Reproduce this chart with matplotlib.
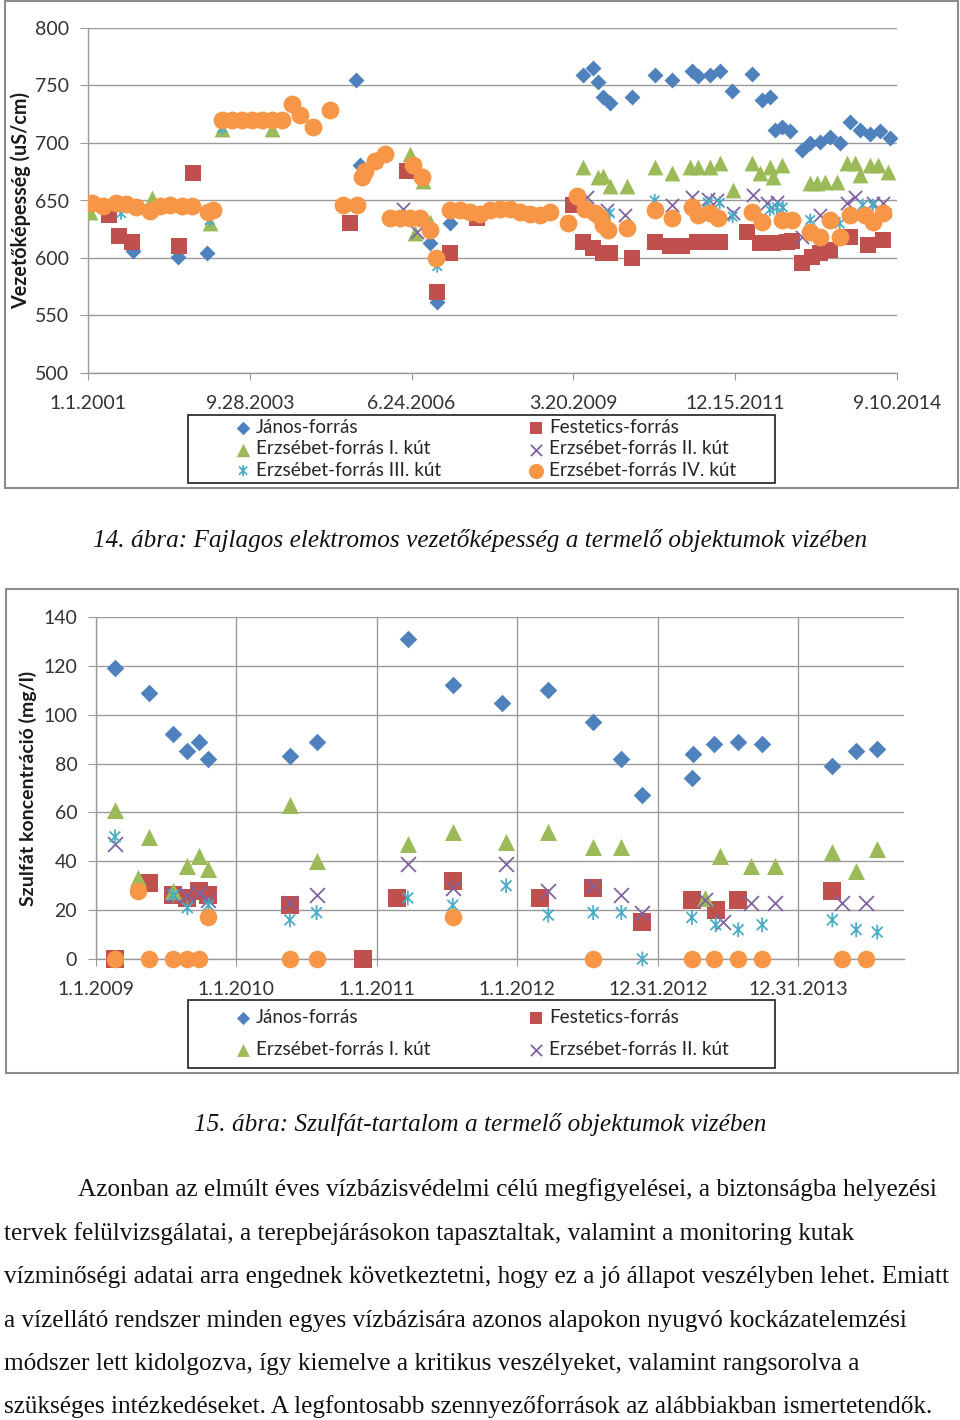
import matplotlib
matplotlib.use('Agg')
import matplotlib.pyplot as plt
import matplotlib.dates as mdates
from matplotlib.path import Path
from matplotlib.patches import Rectangle
from matplotlib.ticker import FuncFormatter, FixedLocator
from datetime import datetime, timedelta
import numpy as np

plt.rcParams['font.family'] = ['Lato', 'DejaVu Sans']

# ---------------- Chart 1 data: decimal year, conductivity (uS/cm) ----------------
janos1_t = [2001.20, 2001.76, 2002.52, 2003.01, 2005.53, 2005.60, 2006.79, 2006.91, 2007.13,
            2009.38, 2009.54, 2009.63, 2009.71, 2009.83, 2010.20, 2010.59, 2010.88,
            2011.22, 2011.32, 2011.52, 2011.69, 2011.90, 2012.24, 2012.40, 2012.54,
            2012.62, 2012.74, 2012.88, 2013.08, 2013.22, 2013.39, 2013.56, 2013.72, 2013.89,
            2014.06, 2014.23, 2014.40, 2014.57]
janos1_v = [645, 606, 601, 604, 755, 681, 613, 562, 630,
            759, 765, 753, 740, 735, 740, 759, 755,
            763, 758, 759, 763, 745, 760, 737, 740,
            711, 714, 710, 694, 700, 701, 705, 700, 718,
            711, 708, 710, 704]

fest1_t = [2001.36, 2001.52, 2001.74, 2002.54, 2002.78, 2005.43, 2006.40, 2006.91, 2007.13, 2007.58,
           2009.21, 2009.38, 2009.54, 2009.71, 2009.83, 2010.20, 2010.59, 2010.85,
           2011.05, 2011.30, 2011.49, 2011.69, 2012.15, 2012.37, 2012.59, 2012.83, 2012.91,
           2013.08, 2013.25, 2013.39, 2013.56, 2013.89, 2014.20, 2014.45]
fest1_v = [637, 619, 614, 610, 674, 630, 676, 570, 604, 635,
           646, 614, 609, 604, 604, 600, 614, 610,
           610, 614, 614, 614, 623, 613, 613, 614, 615,
           596, 601, 604, 607, 618, 611, 616]

erz1_1_t = [2001.03, 2002.08, 2003.06, 2003.27, 2004.11, 2006.45, 2006.53, 2006.67, 2006.79,
            2009.38, 2009.63, 2009.71, 2009.83, 2010.12, 2010.59, 2010.88,
            2011.19, 2011.32, 2011.52, 2011.69, 2011.91, 2012.24, 2012.37, 2012.54, 2012.59, 2012.74,
            2013.22, 2013.34, 2013.47, 2013.67, 2013.84, 2013.98, 2014.06, 2014.23, 2014.37, 2014.54]
erz1_1_v = [640, 652, 630, 712, 712, 690, 622, 667, 631,
            679, 670, 671, 663, 663, 679, 674,
            679, 679, 679, 683, 659, 683, 674, 679, 670, 681,
            665, 665, 666, 666, 683, 683, 672, 681, 681, 675]

erz2_1_t = [2006.33, 2006.56, 2009.44, 2009.78, 2010.09, 2010.88, 2011.22, 2011.49, 2011.64, 2011.91,
            2012.25, 2012.49, 2012.66, 2013.08, 2013.39, 2013.84, 2013.98, 2014.28, 2014.45]
erz2_1_v = [643, 623, 653, 642, 637, 646, 653, 651, 650, 639,
            655, 648, 649, 618, 637, 648, 653, 648, 648]

erz3_1_t = [2001.56, 2003.06, 2003.27, 2006.91, 2009.83, 2010.59, 2011.49, 2011.69, 2011.91,
            2012.54, 2012.66, 2012.76, 2013.22, 2013.72, 2014.11, 2014.28, 2014.52]
erz3_1_v = [639, 633, 713, 593, 639, 650, 648, 648, 636,
            642, 644, 644, 633, 630, 646, 646, 639]

erz4_1_t = [2001.07, 2001.25, 2001.47, 2001.64, 2001.81,
            2002.05, 2002.22, 2002.39, 2002.59, 2002.76,
            2003.03, 2003.12, 2003.27, 2003.44, 2003.61, 2003.78, 2003.94,
            2004.11, 2004.28, 2004.45, 2004.59, 2004.81,
            2005.09, 2005.31, 2005.55, 2005.64, 2005.69, 2005.86,
            2006.03, 2006.11, 2006.28, 2006.45, 2006.50, 2006.62, 2006.65, 2006.79, 2006.89,
            2007.13, 2007.29, 2007.46, 2007.63, 2007.80, 2007.97,
            2008.14, 2008.31, 2008.48, 2008.65, 2008.82,
            2009.12, 2009.27, 2009.41, 2009.58, 2009.66, 2009.71, 2009.80,
            2010.12, 2010.59, 2010.88,
            2011.22, 2011.32, 2011.52, 2011.66,
            2012.24, 2012.40, 2012.74, 2012.91,
            2013.22, 2013.39, 2013.56, 2013.72, 2013.89,
            2014.15, 2014.28, 2014.45]
erz4_1_v = [648, 645, 648, 647, 644,
            641, 645, 646, 645, 645,
            640, 642, 720, 720, 720, 720, 720,
            720, 720, 734, 724, 714,
            729, 646, 646, 670, 676, 684,
            690, 635, 635, 635, 681, 635, 670, 624, 600,
            642, 642, 640, 638, 642, 643,
            643, 640, 638, 637, 640,
            630, 654, 643, 639, 636, 629, 624,
            626, 642, 635,
            644, 637, 639, 635,
            640, 631, 633, 633,
            623, 618, 633, 618, 637,
            637, 631, 639]

labels1 = ['János-forrás', 'Festetics-forrás', 'Erzsébet-forrás I. kút',
           'Erzsébet-forrás II. kút', 'Erzsébet-forrás III. kút', 'Erzsébet-forrás IV. kút']
yticks1 = [500, 550, 600, 650, 700, 750, 800]

# ---------------- Chart 2 data: decimal year, sulphate (mg/l) ----------------
janos2_t = [2009.135, 2009.38, 2009.55, 2009.65, 2009.73, 2009.80, 2010.38, 2010.57,
            2011.22, 2011.54, 2011.89, 2012.22, 2012.54, 2012.74, 2012.89,
            2013.24, 2013.25, 2013.40, 2013.57, 2013.74, 2014.24, 2014.41, 2014.56]
janos2_v = [119, 109, 92, 85, 89, 82, 83, 89,
            131, 112, 105, 110, 97, 82, 67,
            74, 84, 88, 89, 88, 79, 85, 86]

fest2_t = [2009.135, 2009.38, 2009.55, 2009.65, 2009.73, 2009.80, 2010.38, 2010.90,
           2011.14, 2011.54, 2012.16, 2012.54, 2012.89, 2013.24, 2013.41, 2013.57, 2014.24]
fest2_v = [0, 31, 26, 25, 28, 26, 22, 0,
           25, 32, 25, 29, 15, 24, 20, 24, 28]

erz1_2_t = [2009.135, 2009.30, 2009.38, 2009.55, 2009.65, 2009.73, 2009.80, 2010.38, 2010.57,
            2011.22, 2011.54, 2011.92, 2012.22, 2012.54, 2012.74,
            2013.33, 2013.44, 2013.66, 2013.83, 2014.24, 2014.41, 2014.56]
erz1_2_v = [61, 33, 50, 28, 38, 42, 37, 63, 40,
            47, 52, 48, 52, 46, 46,
            25, 42, 38, 38, 44, 36, 45]

erz2_2_t = [2009.135, 2009.55, 2009.65, 2009.73, 2009.80, 2010.38, 2010.57,
            2011.22, 2011.54, 2011.92, 2012.22, 2012.54, 2012.74, 2012.89,
            2013.33, 2013.46, 2013.66, 2013.83, 2014.31, 2014.48]
erz2_2_v = [47, 26, 26, 27, 24, 23, 26,
            39, 29, 39, 28, 30, 26, 19,
            24, 15, 23, 23, 23, 23]

erz3_2_t = [2009.135, 2009.55, 2009.65, 2009.80, 2010.38, 2010.57,
            2011.22, 2011.54, 2011.92, 2012.22, 2012.54, 2012.74, 2012.89,
            2013.24, 2013.41, 2013.57, 2013.74, 2014.24, 2014.41, 2014.56]
erz3_2_v = [50, 26, 21, 22, 16, 19,
            25, 22, 30, 18, 19, 19, 0,
            17, 14, 12, 14, 16, 12, 11]

erz4_2_t = [2009.135, 2009.30, 2009.38, 2009.55, 2009.65, 2009.73, 2009.80, 2010.38, 2010.57,
            2011.54, 2012.54, 2013.24, 2013.40, 2013.57, 2013.74, 2014.31, 2014.48]
erz4_2_v = [0, 28, 0, 0, 0, 0, 17, 0, 0,
            17, 0, 0, 0, 0, 0, 0, 0]

yticks2 = [0, 20, 40, 60, 80, 100, 120, 140]

caption1 = "14. ábra: Fajlagos elektromos vezetőképesség a termelő objektumok vizében"
caption2 = "15. ábra: Szulfát-tartalom a termelő objektumok vizében"
body_lines = [
    "Azonban az elmúlt éves vízbázisvédelmi célú megfigyelései, a biztonságba helyezési",
    "tervek felülvizsgálatai, a terepbejárásokon tapasztaltak, valamint a monitoring kutak",
    "vízminőségi adatai arra engednek következtetni, hogy ez a jó állapot veszélyben lehet. Emiatt",
    "a vízellátó rendszer minden egyes vízbázisára azonos alapokon nyugvó kockázatelemzési",
    "módszer lett kidolgozva, így kiemelve a kritikus veszélyeket, valamint rangsorolva a",
    "szükséges intézkedéseket. A legfontosabb szennyezőforrások az alábbiakban ismertetendők.",
]

# ---------------- styles ----------------
C_BLUE, C_RED, C_GREEN = '#4F81BD', '#C0504D', '#9BBB59'
C_PURPLE, C_CYAN, C_ORANGE = '#8064A2', '#4BACC6', '#F79646'
GRID = '#9a9a9a'
TXT = '#333333'

STAR = Path([(0, -1), (0, 1), (-0.72, -0.72), (0.72, 0.72), (-0.72, 0.72), (0.72, -0.72)],
            [Path.MOVETO, Path.LINETO, Path.MOVETO, Path.LINETO, Path.MOVETO, Path.LINETO])


def to_num(years):
    out = []
    for y in years:
        y0 = int(np.floor(y))
        out.append(mdates.date2num(datetime(y0, 1, 1) + timedelta(days=(y - y0) * 365.25)))
    return np.array(out)


def date_fmt(x, pos=None):
    d = mdates.num2date(x)
    return f"{d.month}.{d.day}.{d.year}"


W, H = 960, 1420
fig = plt.figure(figsize=(W / 100, H / 100), dpi=100)
fig.patch.set_facecolor('white')


def fx(px):
    return px / W


def fy(py):
    return 1 - py / H


def frame(x0, y0, x1, y1, color, lw):
    fig.add_artist(Rectangle((fx(x0), fy(y1)), fx(x1) - fx(x0), fy(y0) - fy(y1),
                             transform=fig.transFigure, fill=False, edgecolor=color, lw=lw))


def style_axes(ax, vgrid):
    for s in ['top', 'right']:
        ax.spines[s].set_visible(False)
    for s in ['left', 'bottom']:
        ax.spines[s].set_color(GRID)
        ax.spines[s].set_linewidth(1.0)
    ax.grid(axis='y', color=GRID, lw=1.0)
    if vgrid:
        ax.grid(axis='x', color=GRID, lw=1.0)
    ax.set_axisbelow(True)
    ax.tick_params(axis='y', length=6, color=GRID, pad=7.5, labelsize=14, labelcolor=TXT)
    ax.tick_params(axis='x', length=5, color=GRID, pad=10.5, labelsize=14, labelcolor=TXT)
    ax.xaxis.set_major_formatter(FuncFormatter(date_fmt))


def plot_series(ax, series, sizes):
    handles = []
    for (t, v, kind) in series:
        x = to_num(t)
        if kind == 'janos':
            h = ax.scatter(x, v, marker='D', s=sizes['D'], color=C_BLUE, linewidths=0, zorder=3)
        elif kind == 'fest':
            h = ax.scatter(x, v, marker='s', s=sizes['s'], color=C_RED, linewidths=0, zorder=3)
        elif kind == 'e1':
            h = ax.scatter(x, v, marker='^', s=sizes['^'], color=C_GREEN, linewidths=0, zorder=3)
        elif kind == 'e2':
            h = ax.scatter(x, v, marker='x', s=sizes['x'], color=C_PURPLE, linewidths=1.3, zorder=3)
        elif kind == 'e3':
            h = ax.scatter(x, v, marker=STAR, s=sizes['*'], facecolors='none', edgecolors=C_CYAN,
                           linewidths=1.3, zorder=3)
        else:
            h = ax.scatter(x, v, marker='o', s=sizes['o'], color=C_ORANGE, linewidths=0, zorder=3)
        handles.append(h)
    return handles


# ================= Chart 1 =================
frame(5, 1, 958, 488, '#8c8c8c', 1.5)
ax1 = fig.add_axes([fx(88), fy(373), fx(897) - fx(88), fy(28) - fy(373)])
style_axes(ax1, vgrid=False)
start1 = datetime(2001, 1, 1)
ticks1 = [mdates.date2num(start1 + timedelta(days=1000 * k)) for k in range(6)]
ax1.set_xlim(ticks1[0], ticks1[-1])
ax1.xaxis.set_major_locator(FixedLocator(ticks1))
ax1.set_ylim(500, 800)
ax1.set_yticks(yticks1)
ax1.set_ylabel('Vezetőképesség (uS/cm)', fontsize=14.2, fontweight='bold', color='#1a1a1a')
ax1.yaxis.set_label_coords((31 - 88) / 809, 0.5)
h1 = plot_series(ax1, [(janos1_t, janos1_v, 'janos'), (fest1_t, fest1_v, 'fest'),
                       (erz1_1_t, erz1_1_v, 'e1'), (erz2_1_t, erz2_1_v, 'e2'),
                       (erz3_1_t, erz3_1_v, 'e3'), (erz4_1_t, erz4_1_v, 'o')],
                 {'D': 66, 's': 120, '^': 130, 'x': 90, '*': 90, 'o': 165})

# legend 1
frame(188, 415, 775, 483, '#303030', 1.3)
leg_kw = dict(frameon=False, handlelength=0.75, handletextpad=0.3, borderpad=0, borderaxespad=0,
              scatterpoints=1, prop={'size': 13.6}, labelcolor='#262626')
fig.legend([h1[0], h1[2], h1[4]], [labels1[0], labels1[2], labels1[4]], loc='center left',
           bbox_to_anchor=(fx(236), fy(449)), labelspacing=0.22, markerscale=0.85, **leg_kw)
fig.legend([h1[1], h1[3], h1[5]], [labels1[1], labels1[3], labels1[5]], loc='center left',
           bbox_to_anchor=(fx(529), fy(449)), labelspacing=0.22, markerscale=0.85, **leg_kw)

fig.text(0.5, fy(547), caption1, ha='center', va='baseline', family='Liberation Serif',
         style='italic', fontsize=18.2, color='#111111')

# ================= Chart 2 =================
frame(6, 589, 958, 1073, '#8c8c8c', 1.5)
ax2 = fig.add_axes([fx(96), fy(959), fx(904) - fx(96), fy(617) - fy(959)])
style_axes(ax2, vgrid=True)
start2 = datetime(2009, 1, 1)
ticks2 = [mdates.date2num(start2 + timedelta(days=365 * k)) for k in range(6)]
ax2.set_xlim(ticks2[0], mdates.date2num(start2 + timedelta(days=2100)))
ax2.xaxis.set_major_locator(FixedLocator(ticks2))
ax2.set_ylim(0, 140)
ax2.set_yticks(yticks2)
ax2.set_ylabel('Szulfát koncentráció (mg/l)', fontsize=14, fontweight='bold', color='#1a1a1a')
ax2.yaxis.set_label_coords((37 - 96) / 808, 0.5)
h2 = plot_series(ax2, [(janos2_t, janos2_v, 'janos'), (fest2_t, fest2_v, 'fest'),
                       (erz1_2_t, erz1_2_v, 'e1'), (erz2_2_t, erz2_2_v, 'e2'),
                       (erz3_2_t, erz3_2_v, 'e3'), (erz4_2_t, erz4_2_v, 'o')],
                 {'D': 80, 's': 150, '^': 150, 'x': 115, '*': 115, 'o': 160})
for h in h2:
    h.set_clip_on(False)

frame(188, 1000, 775, 1068, '#303030', 1.3)
fig.legend([h2[0], h2[2]], [labels1[0], labels1[2]], loc='center left',
           bbox_to_anchor=(fx(236), fy(1033.5)), labelspacing=0.75, markerscale=0.75, **leg_kw)
fig.legend([h2[1], h2[3]], [labels1[1], labels1[3]], loc='center left',
           bbox_to_anchor=(fx(529), fy(1033.5)), labelspacing=0.75, markerscale=0.75, **leg_kw)

fig.text(0.5, fy(1131), caption2, ha='center', va='baseline', family='Liberation Serif',
         style='italic', fontsize=18.2, color='#111111')

# ================= Body text =================
line_y = [1196, 1240, 1283, 1327, 1370, 1413]
line_x = [78, 4, 4, 4, 4, 4]
for s, x, y in zip(body_lines, line_x, line_y):
    fig.text(fx(x), fy(y), s, ha='left', va='baseline', family='Liberation Serif',
             fontsize=18.2, color='#111111')

fig.savefig('out.png', dpi=100, facecolor='white')
